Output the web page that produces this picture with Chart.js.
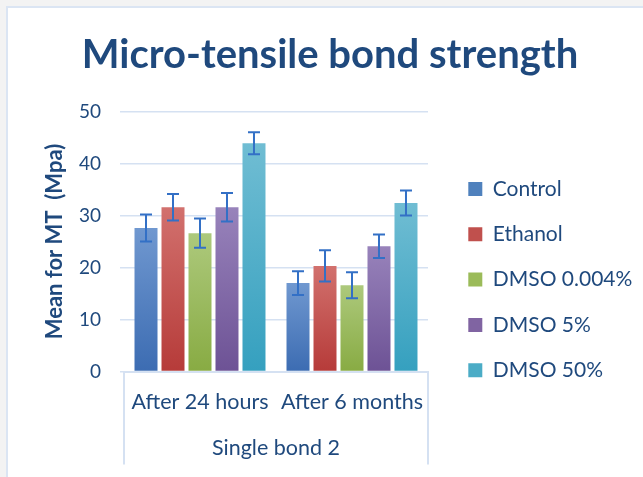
<!DOCTYPE html>
<html><head><meta charset="utf-8">
<script src="https://cdn.jsdelivr.net/npm/chart.js@4.4.0/dist/chart.umd.min.js"></script>
<style>
html,body{margin:0;padding:0;background:#fff;}
#page{position:relative;width:643px;height:477px;overflow:hidden;background:#f3f3f3;}
#frame{position:absolute;left:6px;top:6px;right:-10px;bottom:-10px;background:#fff;border-left:2px solid #dbe5f3;border-top:2px solid #dbe5f3;}
#wrap{position:absolute;left:0;top:0;width:643px;height:477px;}
</style></head><body>
<div id="page"><div id="frame"></div><div id="wrap"><canvas id="c"></canvas></div></div>
<script>
// ---- data ----
const categories = ['After 24 hours', 'After 6 months'];
const groupLabel = 'Single bond 2';
const seriesNames = ['Control', 'Ethanol', 'DMSO 0.004%', 'DMSO 5%', 'DMSO 50%'];
const control = [27.6, 17.0];
const ethanol = [31.6, 20.3];
const dmso0004 = [26.6, 16.6];
const dmso5 = [31.6, 24.1];
const dmso50 = [43.9, 32.4];
const controlErr = [2.6, 2.3];
const ethanolErr = [2.55, 3.0];
const dmso0004Err = [2.8, 2.5];
const dmso5Err = [2.75, 2.25];
const dmso50Err = [2.1, 2.4];
const yTicks = [0, 10, 20, 30, 40, 50];

// ---- style ----
const navy = '#1f497d';
const gridCol = '#d5e1f2';
const errCol = '#3370c6';
const topCols = ['#7098d0', '#d2716e', '#adc97c', '#9883bb', '#70bdd3'];
const botCols = ['#3c6cb2', '#b63b39', '#88ab43', '#6d5295', '#35a0bf'];
const midCols = ['#4f81bd', '#c0504d', '#9bbb59', '#8064a2', '#4bacc6'];
const PLOT_LEFT = 124, PLOT_RIGHT = 428, PLOT_BOTTOM_SPACE = 105.5;

function barGradient(i) {
  return (ctx) => {
    const chart = ctx.chart;
    if (ctx.type !== 'data' || !chart.chartArea || !chart.scales.y) return midCols[i];
    const ys = chart.scales.y;
    const y0 = ys.getPixelForValue(0), y1 = ys.getPixelForValue(ctx.raw);
    if (!isFinite(y1) || !isFinite(y0) || y0 === y1) return midCols[i];
    const g = chart.ctx.createLinearGradient(0, y1, 0, y0);
    g.addColorStop(0, topCols[i]);
    g.addColorStop(1, botCols[i]);
    return g;
  };
}

const values = [control, ethanol, dmso0004, dmso5, dmso50];
const errors = [controlErr, ethanolErr, dmso0004Err, dmso5Err, dmso50Err];

const datasets = seriesNames.map((name, i) => ({
  label: name,
  data: values[i],
  errors: errors[i],
  backgroundColor: barGradient(i),
  borderWidth: 0,
  categoryPercentage: 0.888,
  barPercentage: 0.852
}));

const errorBars = {
  id: 'errorBars',
  afterDatasetsDraw(chart) {
    const ctx = chart.ctx, ys = chart.scales.y;
    ctx.save();
    ctx.strokeStyle = errCol;
    ctx.lineWidth = 2;
    chart.data.datasets.forEach((ds, i) => {
      const meta = chart.getDatasetMeta(i);
      meta.data.forEach((bar, j) => {
        const v = ds.data[j], e = ds.errors[j];
        const yt = ys.getPixelForValue(v + e), yb = ys.getPixelForValue(v - e);
        const x = bar.x, hw = 6;
        ctx.beginPath();
        ctx.moveTo(x, yt); ctx.lineTo(x, yb);
        ctx.moveTo(x - hw, yt); ctx.lineTo(x + hw, yt);
        ctx.moveTo(x - hw, yb); ctx.lineTo(x + hw, yb);
        ctx.stroke();
      });
    });
    ctx.restore();
  }
};

const TITLE_CENTER = 330;
const LEGEND_LEFT = 444, LEGEND_TOP = 154.2;
const placeBoxes = {
  id: 'placeBoxes',
  afterLayout(chart) {
    const t = chart.titleBlock;
    if (t) {
      const shift = TITLE_CENTER - (t.left + t.right) / 2;
      t.left += shift; t.right += shift;
    }
    const l = chart.legend;
    if (l) {
      l.left = LEGEND_LEFT; l.right = chart.width;
      l.width = l.right - l.left;
      l.top = LEGEND_TOP; l.bottom = chart.height;
      l.height = l.bottom - l.top;
    }
  }
};

const chart = new Chart(document.getElementById('c'), {
  type: 'bar',
  data: { labels: categories, datasets },
  plugins: [errorBars, placeBoxes],
  options: {
    responsive: true,
    maintainAspectRatio: false,
    animation: false,
    layout: { padding: { left: 0, right: 60, top: 0, bottom: 0 } },
    plugins: {
      tooltip: { enabled: false },
      title: {
        display: true,
        text: 'Micro-tensile bond strength',
        color: navy,
        font: { family: 'Lato', size: 40, weight: 'bold' },
        padding: { top: 31, bottom: 32.5 }
      },
      legend: {
        position: 'right',
        align: 'start',
        labels: {
          font: { family: 'Lato', size: 21 },
          color: navy,
          boxWidth: 14,
          boxHeight: 14,
          padding: 24.3,
          generateLabels: (ch) => Chart.defaults.plugins.legend.labels.generateLabels(ch)
            .map((it, i) => Object.assign(it, { fillStyle: midCols[i], strokeStyle: midCols[i], lineWidth: 0 }))
        }
      }
    },
    scales: {
      x: {
        grid: {
          offset: true,
          drawOnChartArea: false,
          tickLength: 93,
          lineWidth: 2,
          color: (c) => c.index === 1 ? 'rgba(0,0,0,0)' : gridCol,
          tickColor: (c) => c.index === 1 ? 'rgba(0,0,0,0)' : gridCol
        },
        border: { display: true, color: gridCol, width: 2 },
        ticks: { font: { family: 'Lato', size: 21.5 }, color: navy, padding: -75, maxRotation: 0, autoSkip: false },
        title: { display: true, text: groupLabel, font: { family: 'Lato', size: 21.5 }, color: navy, padding: { top: 0, bottom: 16 } },
        afterFit: (s) => { s.height = PLOT_BOTTOM_SPACE; }
      },
      y: {
        min: 0, max: 50,
        afterBuildTicks: (s) => { s.ticks = yTicks.map(v => ({ value: v })); },
        ticks: { font: { family: 'Lato', size: 19 }, color: navy, padding: 19 },
        grid: { color: gridCol, lineWidth: 1.5, tickLength: 4 },
        border: { display: false },
        title: { display: true, text: 'Mean for MT  (Mpa)', color: navy, font: { family: 'Lato', size: 22, weight: 'bold' }, padding: { top: 42, bottom: 0 } },
        afterFit: (s) => { s.width = PLOT_LEFT; }
      }
    }
  }
});
for (let k = 0; k < 10; k++) {
  const dx = chart.chartArea.right - PLOT_RIGHT;
  if (Math.abs(dx) < 0.05) break;
  chart.options.layout.padding.right += dx / 0.75;
  chart.update();
}
</script>
</body></html>
